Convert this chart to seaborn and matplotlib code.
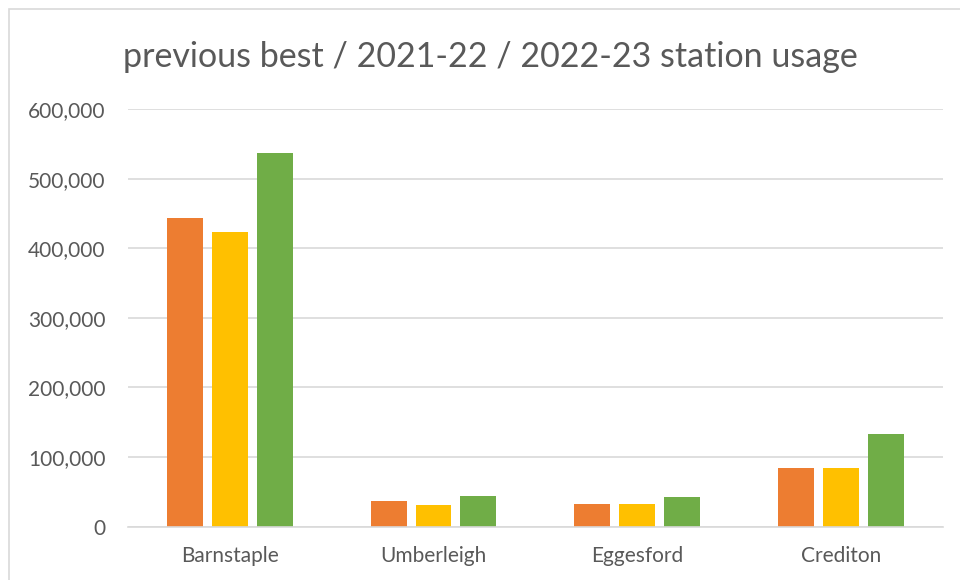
import matplotlib
matplotlib.use("Agg")
import matplotlib.pyplot as plt
import seaborn as sns
import pandas as pd
from matplotlib.patches import Rectangle
from matplotlib.ticker import FuncFormatter

stations = ["Barnstaple", "Umberleigh", "Eggesford", "Crediton"]
series = ["previous best", "2021-22", "2022-23"]
previous_best = [443000, 36500, 32600, 83700]
y2021_22 = [423000, 31600, 32600, 83700]
y2022_23 = [537000, 44000, 42700, 132800]
colors = ["#ED7D31", "#FFC000", "#70AD47"]
yticks = [0, 100000, 200000, 300000, 400000, 500000, 600000]

rows = []
for s, vals in zip(series, [previous_best, y2021_22, y2022_23]):
    for st, v in zip(stations, vals):
        rows.append({"station": st, "series": s, "value": v})
df = pd.DataFrame(rows)

sns.set_theme(style="white")
plt.rcParams["font.family"] = ["Lato", "DejaVu Sans"]

fig = plt.figure(figsize=(9.6, 5.8), dpi=100)
ax = fig.add_axes([0.1333, 0.092, 0.982 - 0.1333, 0.812 - 0.092])

sns.barplot(data=df, x="station", y="value", hue="series", order=stations,
            hue_order=series, palette=colors, width=0.66, gap=0.2,
            saturation=1, ax=ax, legend=False, edgecolor="none")

ax.set_ylim(0, 600000)
ax.set_xlim(-0.5, 3.5)
ax.set_yticks(yticks)
ax.yaxis.set_major_formatter(FuncFormatter(lambda v, p: f"{int(v):,}"))
ax.grid(axis="y", color="#D9D9D9", linewidth=1.2)
ax.set_axisbelow(True)
for side in ["left", "right", "top"]:
    ax.spines[side].set_visible(False)
ax.spines["bottom"].set_color("#D9D9D9")
ax.spines["bottom"].set_linewidth(1.2)
ax.set_xlabel("")
ax.set_ylabel("")
ax.tick_params(axis="y", length=0, pad=16, labelsize=15, labelcolor="#595959")
ax.tick_params(axis="x", length=0, pad=14, labelsize=15, labelcolor="#595959")

fig.text(490 / 960, 1 - 57 / 580, "previous best / 2021-22 / 2022-23 station usage",
         ha="center", va="center", fontsize=24.5, color="#595959")

fig.patches.append(Rectangle((9 / 960, -0.05), 1.1, 1 - 9 / 580 + 0.05,
                             transform=fig.transFigure, fill=False,
                             edgecolor="#D9D9D9", linewidth=1.2))

fig.savefig("out.png", dpi=100)
